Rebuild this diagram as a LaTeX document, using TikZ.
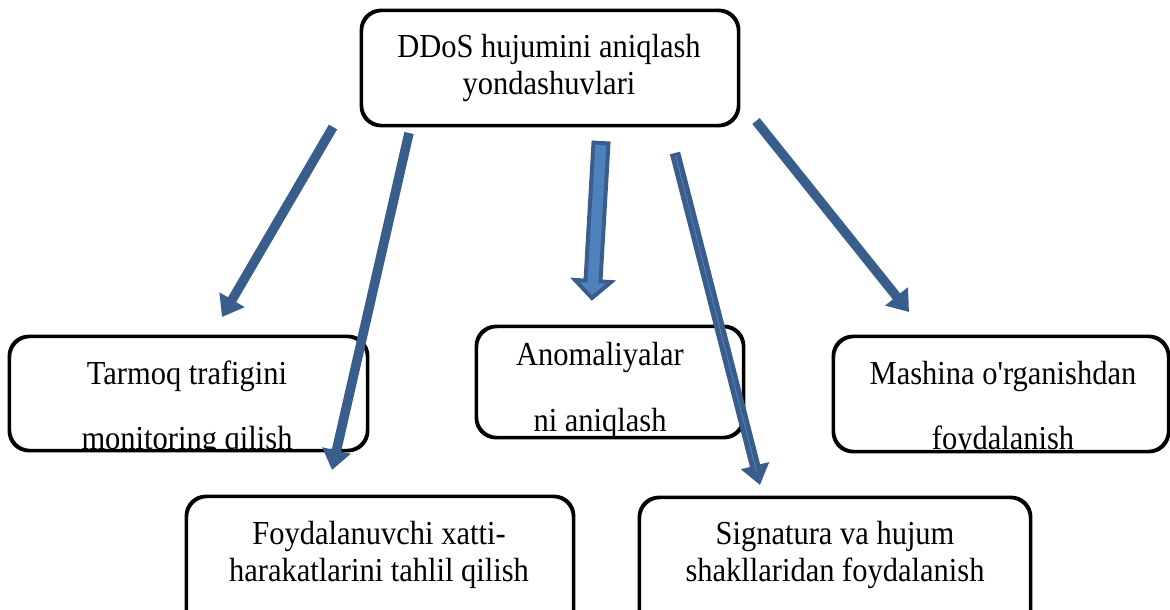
\documentclass[tikz,border=0pt]{standalone}
\usepackage{fontspec}
\setmainfont[Ligatures=TeXOff]{Liberation Serif}
\usetikzlibrary{arrows.meta,calc}
\definecolor{arrowblue}{RGB}{58,94,140}
\definecolor{fillblue}{RGB}{79,129,189}
\definecolor{stripeblue}{RGB}{84,132,192}
\newcommand{\tallt}[1]{\scalebox{1}[1.1]{#1}}
\tikzset{
  box/.style={draw=black, line width=2.4pt, rounded corners=20pt, inner sep=0pt},
  txt/.style={inner sep=0pt, anchor=base, font=\fontsize{30.5}{37}\selectfont},
  bluearrow/.style={draw=arrowblue, line width=9.5pt, -{Triangle[length=20pt,width=28pt]}},
  blockarrow/.style={fill=fillblue, draw=arrowblue, line width=4pt, line join=miter}
}
\begin{document}
\begin{tikzpicture}[x=1pt,y=-1pt]
\clip (0,0) rectangle (1170,610);
\fill[white] (0,0) rectangle (1170,610);

% boxes (shape only)
\node[box, minimum width=376pt, minimum height=114pt] (top) at (550,68) {};
\node[box, minimum width=357pt, minimum height=113pt] (tarm) at (188.5,393.5) {};
\node[box, minimum width=266pt, minimum height=110pt] (anom) at (610,382) {};
\node[box, minimum width=334pt, minimum height=114pt] (mash) at (1001,394) {};
\node[box, minimum width=386pt, minimum height=146pt] (foyd) at (380,570) {};
\node[box, minimum width=390pt, minimum height=146pt] (sign) at (835,571) {};

% texts, clipped by their boxes
\begin{scope}
\clip[rounded corners=20pt] (top.south west) rectangle (top.north east);
\node[txt] (top1) at (549,58) {\tallt{DDoS hujumini aniqlash}};
\node[txt] (top2) at (549,94) {\tallt{yondashuvlari}};
\end{scope}
\begin{scope}
\clip[rounded corners=20pt] (tarm.south west) rectangle (tarm.north east);
\node[txt] (tarm1) at (187,384) {\tallt{Tarmoq trafigini}};
\node[txt] (tarm2) at (187,449) {\tallt{monitoring qilish}};
\end{scope}
\begin{scope}
\clip[rounded corners=20pt] (anom.south west) rectangle (anom.north east);
\node[txt] (anom1) at (600,365) {\tallt{Anomaliyalar}};
\node[txt] (anom2) at (600,431) {\tallt{ni aniqlash}};
\end{scope}
\begin{scope}
\clip[rounded corners=20pt] (mash.south west) rectangle (mash.north east);
\node[txt] (mash1) at (1003,384) {\tallt{Mashina o'rganishdan}};
\node[txt] (mash2) at (1003,449) {\tallt{foydalanish}};
\end{scope}
\begin{scope}
\clip[rounded corners=20pt] (foyd.south west) rectangle (foyd.north east);
\node[txt] (foyd1) at (379,544) {\tallt{Foydalanuvchi xatti-}};
\node[txt] (foyd2) at (379,581) {\tallt{harakatlarini tahlil qilish}};
\end{scope}
\begin{scope}
\clip[rounded corners=20pt] (sign.south west) rectangle (sign.north east);
\node[txt] (sign1) at (835,544) {\tallt{Signatura va hujum}};
\node[txt] (sign2) at (835,581) {\tallt{shakllaridan foydalanish}};
\end{scope}

% box borders redrawn over the clipped text
\foreach \b in {top,tarm,anom,mash,foyd,sign}{
  \draw[black, line width=2.4pt, rounded corners=20pt] (\b.south west) rectangle (\b.north east);
}

% arrow end points
\coordinate (a1s) at (333,127);
\coordinate (a1e) at (222,317);
\coordinate (a2s) at (409,133);
\coordinate (a2e) at (332,470);
\coordinate (a3s) at (601,143);
\coordinate (a3e) at (592,298);
\coordinate (a4s) at (675,153);
\coordinate (a4e) at (760,485);
\coordinate (a5s) at (756,121);
\coordinate (a5e) at (909,312);

\draw[bluearrow] (a1s) -- (a1e);
\draw[bluearrow] (a2s) -- (a2e);
\draw[bluearrow, line width=10.5pt] (a4s) -- (a4e);
\draw[stripeblue, line width=0.8pt] ($(a4s)!3pt!(a4e)$) -- ($(a4e)!14pt!(a4s)$);
\draw[bluearrow] (a5s) -- (a5e);

% block arrow
\coordinate (a3m) at ($(a3e)!17pt!(a3s)$);
\draw[blockarrow]
  ($(a3s)!7.5pt!90:(a3e)$) --
  ($(a3m)!7.5pt!-90:(a3s)$) --
  ($(a3m)!18pt!-90:(a3s)$) --
  (a3e) --
  ($(a3m)!18pt!90:(a3s)$) --
  ($(a3m)!7.5pt!90:(a3s)$) --
  ($(a3s)!7.5pt!-90:(a3e)$) -- cycle;
\end{tikzpicture}
\end{document}
